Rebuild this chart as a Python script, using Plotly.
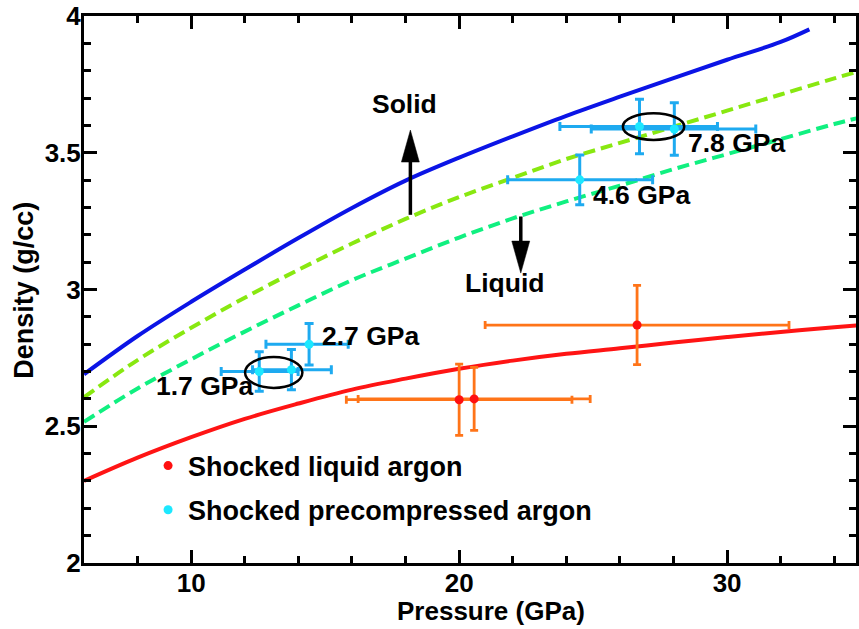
import plotly.graph_objects as go

# ---------------- data ----------------
p_blue = [6, 8, 10, 12, 14, 16, 18, 20, 22, 24, 26, 28, 30, 32, 33.07]
d_blue = [2.69, 2.83, 2.955, 3.073, 3.188, 3.298, 3.398, 3.482, 3.560, 3.635, 3.705, 3.773, 3.840, 3.905, 3.951]

p_curve = [6, 8, 10, 12, 14, 16, 18, 20, 22, 24, 26, 28, 30, 32, 34, 35]
d_yellow = [2.606, 2.742, 2.860, 2.970, 3.072, 3.168, 3.258, 3.338, 3.408, 3.477, 3.536, 3.595, 3.654, 3.713, 3.772, 3.800]
d_green = [2.516, 2.638, 2.745, 2.846, 2.942, 3.034, 3.113, 3.190, 3.260, 3.322, 3.380, 3.440, 3.495, 3.550, 3.605, 3.630]
d_red = [2.300, 2.385, 2.460, 2.527, 2.583, 2.634, 2.674, 2.710, 2.740, 2.765, 2.785, 2.806, 2.826, 2.845, 2.862, 2.870]

liq_p = [20.00, 20.56, 26.64]
liq_d = [2.597, 2.600, 2.870]
liq_perr = [4.21, 4.33, 5.67]
liq_derr = [0.13, 0.115, 0.145]

pre_p = [12.54, 13.74, 14.40, 24.50, 26.73, 28.03]
pre_d = [2.700, 2.707, 2.800, 3.401, 3.596, 3.587]
pre_perr_plus = [1.45, 1.49, 1.46, 2.72, 2.91, 3.04]
pre_perr_minus = [1.42, 1.45, 1.61, 2.69, 2.97, 3.10]
pre_derr = [0.072, 0.074, 0.076, 0.091, 0.100, 0.096]

label_text = ["1.7 GPa", "2.7 GPa", "4.6 GPa", "7.8 GPa"]
label_p = [10.5, 14.81, 24.92, 28.45]
label_d = [2.648, 2.831, 3.346, 3.535]
label_anchor = ["center", "left", "left", "left"]

# ellipses (p0, p1, d0, d1)
ellipses = [(12.01, 14.15, 2.640, 2.753), (26.11, 28.40, 3.547, 3.644)]

# arrows: (p, d_from, d_to)
arrows = [(18.18, 3.273, 3.583), (22.30, 3.267, 3.060)]

x_range = [6, 34.81]
y_range = [2, 4]

FONT = "Liberation Sans, Arial, Helvetica, sans-serif"

fig = go.Figure()

fig.add_trace(go.Scatter(x=p_blue, y=d_blue, mode="lines", line=dict(color="#0b14e6", width=4, shape="spline"), showlegend=False, hoverinfo="skip"))
fig.add_trace(go.Scatter(x=p_curve, y=d_yellow, mode="lines", line=dict(color="#88e810", width=4, dash="12px,6px", shape="spline"), showlegend=False, hoverinfo="skip"))
fig.add_trace(go.Scatter(x=p_curve, y=d_green, mode="lines", line=dict(color="#10f080", width=4, dash="12px,6px", shape="spline"), showlegend=False, hoverinfo="skip"))
fig.add_trace(go.Scatter(x=p_curve, y=d_red, mode="lines", line=dict(color="#ff1414", width=4, shape="spline"), showlegend=False, hoverinfo="skip"))

fig.add_trace(go.Scatter(
    x=liq_p, y=liq_d, mode="markers", name="Shocked liquid argon", legendgroup="a",
    marker=dict(color="#ff1010", size=9),
    error_x=dict(type="data", array=liq_perr, color="#ff7418", thickness=2.8, width=4),
    error_y=dict(type="data", array=liq_derr, color="#ff7418", thickness=2.8, width=4),
))
fig.add_trace(go.Scatter(
    x=pre_p, y=pre_d, mode="markers", name="Shocked precompressed argon", legendgroup="b",
    marker=dict(color="#1ce8ff", size=9),
    error_x=dict(type="data", symmetric=False, array=pre_perr_plus, arrayminus=pre_perr_minus, color="#1eaaf0", thickness=3, width=4.5),
    error_y=dict(type="data", array=pre_derr, color="#1eaaf0", thickness=3, width=4.5),
))

shapes = []
for (a0, a1, b0, b1) in ellipses:
    shapes.append(dict(type="circle", xref="x", yref="y", x0=a0, x1=a1, y0=b0, y1=b1,
                       line=dict(color="black", width=2.5)))

px_per_x = 775 / (x_range[1] - x_range[0])
px_per_y = 547 / (y_range[1] - y_range[0])
head_len = 32 / px_per_y
head_half = 9 / px_per_x
for (ap, a_from, a_to) in arrows:
    sgn = 1 if a_to > a_from else -1
    base = a_to - sgn * head_len
    shapes.append(dict(type="line", xref="x", yref="y", x0=ap, x1=ap, y0=a_from, y1=base + sgn * 0.01,
                       line=dict(color="black", width=3.5)))
    path = f"M {ap - head_half} {base} L {ap + head_half} {base} L {ap} {a_to} Z"
    shapes.append(dict(type="path", xref="x", yref="y", path=path, fillcolor="black",
                       line=dict(color="black", width=0.5)))

annotations = []
for t, xp, yd, anc in zip(label_text, label_p, label_d, label_anchor):
    annotations.append(dict(text=t, x=xp, y=yd, xref="x", yref="y", showarrow=False,
                            xanchor=anc, yanchor="middle",
                            font=dict(family=FONT, size=26.5, color="black", weight="bold")))
annotations.append(dict(text="Solid", x=17.97, y=3.678, xref="x", yref="y", showarrow=False,
                        font=dict(family=FONT, size=26.5, color="black", weight="bold")))
annotations.append(dict(text="Liquid", x=21.7, y=3.022, xref="x", yref="y", showarrow=False,
                        font=dict(family=FONT, size=26.5, color="black", weight="bold")))
annotations.append(dict(text="Pressure (GPa)", x=0.527, y=-0.088, xref="paper", yref="paper", showarrow=False,
                        xanchor="center", yanchor="middle",
                        font=dict(family=FONT, size=26, color="black", weight="bold")))
annotations.append(dict(text="Density (g/cc)", x=-0.078, y=0.499, xref="paper", yref="paper", showarrow=False,
                        xanchor="center", yanchor="middle", textangle=-90,
                        font=dict(family=FONT, size=27, color="black", weight="bold")))

axis_common = dict(showline=True, linecolor="black", linewidth=3, mirror="ticks",
                   ticks="inside", ticklen=13, tickwidth=3, tickcolor="black",
                   showgrid=False, zeroline=False,
                   tickfont=dict(family=FONT, size=26, color="black", weight="bold"))

fig.update_layout(
    width=859, height=629,
    margin=dict(l=84, r=0, t=16, b=66),
    paper_bgcolor="white", plot_bgcolor="white",
    font=dict(family=FONT, size=26, color="black", weight="bold"),
    xaxis=dict(range=x_range, tick0=0, dtick=10, ticklabelstandoff=-5, **axis_common,
               minor=dict(dtick=2, ticks="inside", ticklen=7, tickwidth=3, tickcolor="black")),
    yaxis=dict(range=y_range, tick0=0, dtick=0.5, ticklabelstandoff=-5, **axis_common,
               minor=dict(dtick=0.1, ticks="inside", ticklen=7, tickwidth=3, tickcolor="black")),
    legend=dict(x=0.083, y=0.222, xanchor="left", yanchor="top", bgcolor="rgba(0,0,0,0)",
                font=dict(family=FONT, size=27, color="black", weight="bold"), tracegroupgap=6),
    shapes=shapes, annotations=annotations,
)

fig.write_html("out.html")
